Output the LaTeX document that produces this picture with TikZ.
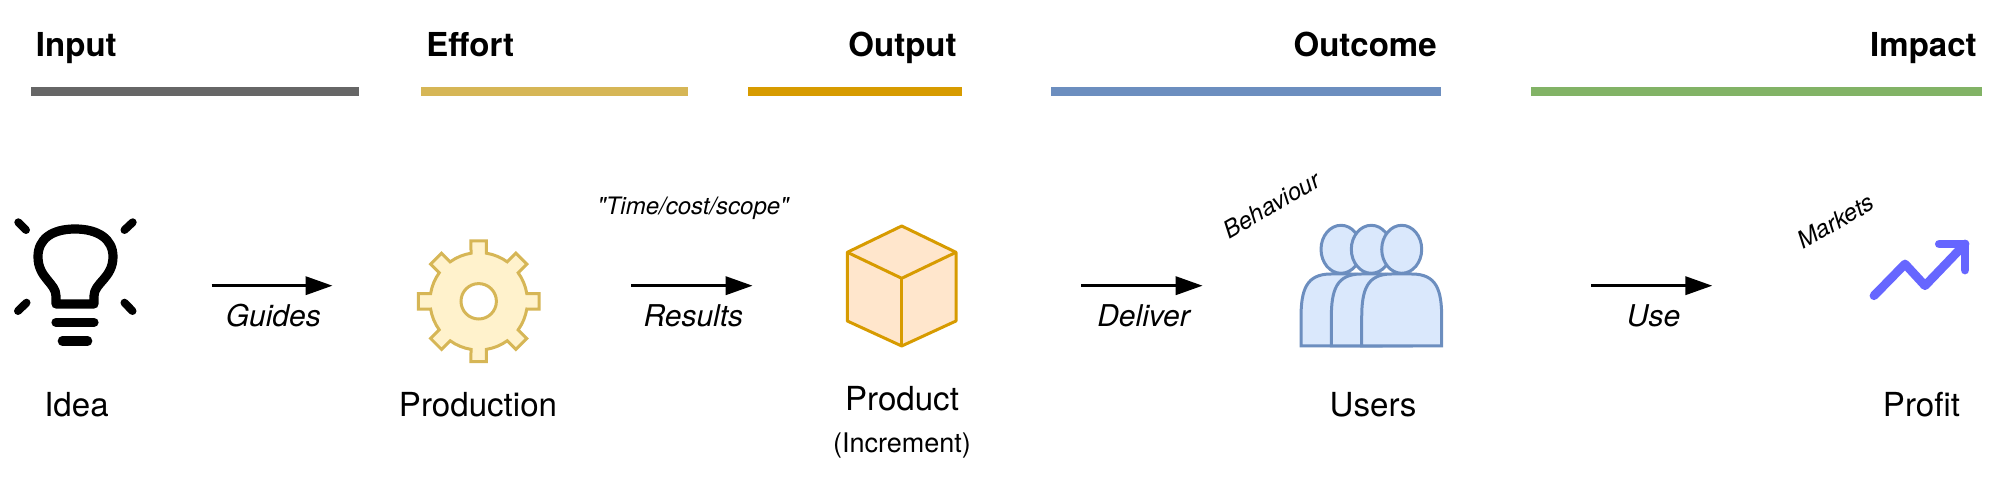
\documentclass[tikz,border=0pt]{standalone}
\usepackage{fontspec}
\setmainfont{TeX Gyre Heros}
\newfontfamily\plainheros{TeX Gyre Heros}
\usetikzlibrary{arrows.meta}
\definecolor{cgrey}{HTML}{666666}
\definecolor{cyellow}{HTML}{D6B656}
\definecolor{corange}{HTML}{D79B00}
\definecolor{cblue}{HTML}{6C8EBF}
\definecolor{cgreen}{HTML}{82B366}
\definecolor{fyellow}{HTML}{FFF2CC}
\definecolor{forange}{HTML}{FFE6CC}
\definecolor{fblue}{HTML}{DAE8FC}
\definecolor{cviolet}{HTML}{6666FF}
\tikzset{
  bar/.style={line width=4.5pt},
  headtext/.style={inner sep=0pt,font=\fontsize{16.5}{18}\selectfont\bfseries},
  nametext/.style={inner sep=0pt,anchor=base,font=\fontsize{16.55}{18}\selectfont},
  subtext/.style={inner sep=0pt,anchor=base,font=\fontsize{13.5}{15}\selectfont},
  arrowtext/.style={inner sep=0pt,anchor=base,font=\fontsize{15}{17}\selectfont\itshape},
  notetext/.style={inner sep=0pt,font=\fontsize{12}{14}\selectfont\plainheros\itshape},
  flow/.style={line width=1.75pt,-{Triangle[length=13.5pt,width=9pt]}},
  bulb/.style={line width=4.6pt,line cap=round,line join=round},
  gearline/.style={line width=1.5pt,draw=cyellow,fill=fyellow,line join=miter},
  cubeline/.style={line width=1.5pt,draw=corange,line join=round},
  personline/.style={line width=1.5pt,draw=cblue,fill=fblue},
  trend/.style={line width=4.4pt,draw=cviolet,line cap=round,line join=round},
}
\begin{document}
\begin{tikzpicture}[x=0.5pt,y=-0.5pt]
\useasboundingbox (0,0) rectangle (1995,480);
% bars
\draw[bar,cgrey] (31,91.5) -- (358.5,91.5);
\draw[bar,cyellow] (421,91.5) -- (688,91.5);
\draw[bar,corange] (748,91.5) -- (961.6,91.5);
\draw[bar,cblue] (1051,91.5) -- (1441.4,91.5);
\draw[bar,cgreen] (1531,91.5) -- (1981.6,91.5);
% headings
\node[headtext,anchor=base west] (hinput) at (35.5,57) {Input};
\node[headtext,anchor=base west] (heffort) at (426,57) {Effort};
\node[headtext,anchor=base east] (houtput) at (957,57) {Output};
\node[headtext,anchor=base east] (houtcome) at (1437,57) {Outcome};
\node[headtext,anchor=base east] (himpact) at (1977,57) {Impact};
% bulb
\draw[bulb] (56,304) -- (56,296) .. controls (56,283) and (38,278) .. (38,256.7)
  .. controls (38,239) and (52,229) .. (75,229)
  .. controls (98,229) and (113,239) .. (113,256.7)
  .. controls (113,278) and (94,283) .. (94,296) -- (94,304) -- cycle;
\draw[bulb] (56,322.3) -- (94,322.3);
\draw[bulb] (62.3,341) -- (87.7,341);
\draw[bulb,line width=4pt] (18.3,222.3) -- (26,230);
\draw[bulb,line width=4pt] (132.7,222.3) -- (124.5,230);
\draw[bulb,line width=4pt] (18,311) -- (26.5,302.7);
\draw[bulb,line width=4pt] (124.5,302.7) -- (132.5,311);
% gear
\begin{scope}[shift={(478.7,301.3)}]
\draw[gearline] (-9.1:48.7)
  \foreach \a in {0,45,...,315} {
    -- (\a-7.3:60.8) -- (\a+7.3:60.8) -- (\a+9.1:48.7)
    arc[start angle=\a+9.1,end angle=\a+35.9,radius=48.7]
  } -- cycle;
\draw[gearline,fill=white] (0,0) circle[radius=17.7];
\end{scope}
% cube
\draw[cubeline,fill=forange] (901.7,226) -- (956,252.3) -- (956,321) -- (901.7,346) -- (847.3,321) -- (847.3,252.3) -- cycle;
\draw[cubeline] (847.3,252.3) -- (901.7,278.3) -- (956,252.3);
\draw[cubeline] (901.7,278.3) -- (901.7,346);
% users
\foreach \L in {1301,1331.3,1361.7} {
  \draw[personline] (\L+40,249.3) ellipse[x radius=20,y radius=24];
  \draw[personline] (\L,346) -- (\L,318) .. controls (\L,290) and (\L+5,274) .. (\L+30,274)
    -- (\L+50,274) .. controls (\L+75,274) and (\L+80,290) .. (\L+80,318) -- (\L+80,346) -- cycle;
}
% trend arrow
\draw[trend] (1874,295.7) -- (1905,264) -- (1925,285.7) -- (1965,244);
\draw[trend] (1939.3,244) -- (1965,244) -- (1965,270);
% names
\node[nametext] (idea) at (76.5,416) {Idea};
\node[nametext] (production) at (478,416) {Production};
\node[nametext] (product) at (902,410.7) {Product};
\node[subtext] (increment) at (902,452.7) {(Increment)};
\node[nametext] (users) at (1373,416) {Users};
\node[nametext] (profit) at (1921.5,416) {Profit};
% connectors
\coordinate (a1s) at (211.6,285.7); \coordinate (a1e) at (332.6,285.7);
\coordinate (a2s) at (631,285.7); \coordinate (a2e) at (752.7,285.7);
\coordinate (a3s) at (1081,285.7); \coordinate (a3e) at (1202.7,285.7);
\coordinate (a4s) at (1591.4,285.7); \coordinate (a4e) at (1712.4,285.7);
\draw[flow] (a1s) -- (a1e);
\draw[flow] (a2s) -- (a2e);
\draw[flow] (a3s) -- (a3e);
\draw[flow] (a4s) -- (a4e);
\node[arrowtext] (guides) at (273.3,327) {Guides};
\node[arrowtext] (results) at (693.4,327) {Results};
\node[arrowtext] (deliver) at (1143.5,327) {Deliver};
\node[arrowtext] (use) at (1653.5,327) {Use};
\node[notetext,anchor=base] (tcs) at (693,215) {"Time/cost/scope"};
\node[notetext,rotate=30] (behaviour) at (1271.5,205) {Behaviour};
\node[notetext,rotate=30] (markets) at (1835.5,221.5) {Markets};
\end{tikzpicture}
\end{document}
